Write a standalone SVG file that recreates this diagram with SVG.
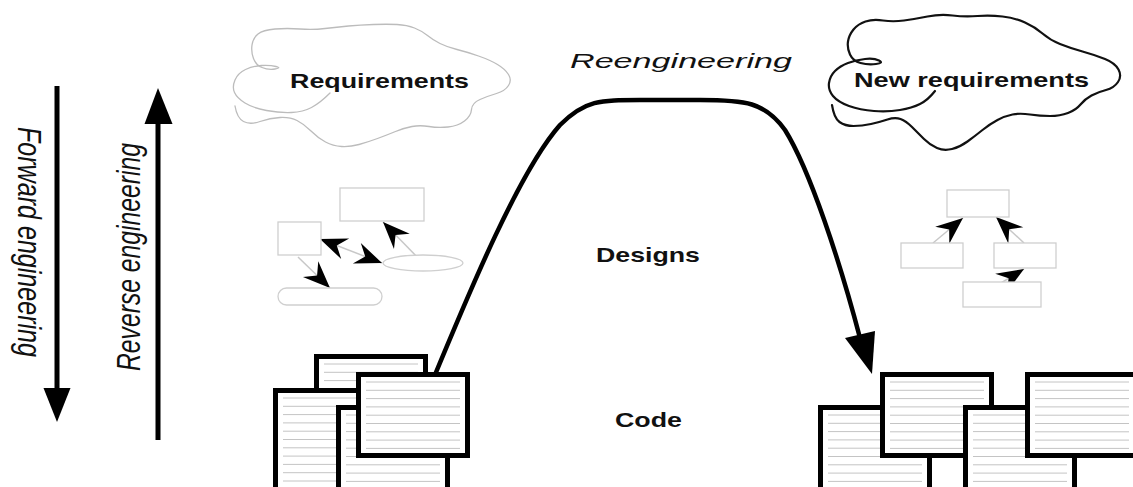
<svg xmlns="http://www.w3.org/2000/svg" xmlns:xlink="http://www.w3.org/1999/xlink" width="1133" height="487" viewBox="0 0 1133 487">
  <style>
    .label { font-family: "Liberation Sans", Arial, sans-serif; font-weight: bold; font-size: 21px; fill: #111; }
    .side { font-family: "Liberation Sans", Arial, sans-serif; font-style: italic; font-size: 27px; fill: #111; }
    .title { font-family: "Liberation Sans", Arial, sans-serif; font-style: italic; font-size: 21px; fill: #111; }
    .cloud-old { fill: none; stroke: #bcbcbc; stroke-width: 1.3; stroke-linecap: round; stroke-linejoin: round; }
    .cloud-new { fill: none; stroke: #111; stroke-width: 2.2; stroke-linecap: round; stroke-linejoin: round; }
    .sketch { fill: #fff; stroke: #cfcfcf; stroke-width: 1.3; }
    .link { fill: none; stroke: #c8c8c8; stroke-width: 1.5; }
    .flow { fill: none; stroke: #000; stroke-width: 4.5; stroke-linecap: round; stroke-linejoin: round; }
    .axis { stroke: #000; stroke-width: 5; }
    .head { fill: #000; stroke: none; }
    .sheet { fill: #fff; stroke: #000; stroke-width: 5; }
    .rule { fill: none; stroke: #c4c4c4; stroke-width: 1; }
  </style>
  <defs>
    <!-- notched arrowhead for the small design sketches -->
    <marker id="barb" viewBox="-30 -13 32 26" refX="0" refY="0" markerWidth="32" markerHeight="26" orient="auto-start-reverse" markerUnits="userSpaceOnUse">
      <path d="M0,0 L-27,-11 L-18,0 L-27,11 Z" fill="#000"/>
    </marker>
    <!-- ruled code sheet, short (fully visible) -->
    <g id="sheetShort">
      <rect class="sheet" x="2.5" y="2.5" width="109" height="81"/>
      <path class="rule" d="M10 10H104M10 18.3H104M10 26.6H104M10 34.9H104M10 43.2H104M10 51.5H104M10 59.8H104M10 68.1H104M10 76.4H104"/>
    </g>
    <!-- ruled code sheet, running off the bottom edge -->
    <g id="sheetTall">
      <rect class="sheet" x="2.5" y="2.5" width="109" height="130"/>
      <path class="rule" d="M10 10H104M10 18.3H104M10 26.6H104M10 34.9H104M10 43.2H104M10 51.5H104M10 59.8H104M10 68.1H104M10 76.4H104M10 84.7H104M10 93H104M10 101.3H104M10 109.6H104M10 117.9H104M10 126.2H104"/>
    </g>
  </defs>

  <rect width="1133" height="487" fill="#fff"/>

  <g id="connectors">
    <!-- forward engineering (down) -->
    <line class="axis" x1="57" y1="86" x2="57" y2="392"/>
    <polygon class="head" points="43.5,388 70.5,388 57,422"/>
    <!-- reverse engineering (up) -->
    <line class="axis" x1="158" y1="120" x2="158" y2="440"/>
    <polygon class="head" points="144.5,124 172.5,124 158,88"/>
    <!-- reengineering path from old code, over the top, down to new code -->
    <path class="flow" d="M 432 382 C 470 290, 520 170, 560 125 C 585 100, 600 100, 640 100 L 700 100 C 745 100, 765 102, 785 130 C 810 170, 840 262, 860 338"/>
    <polygon class="head" points="845,338 875,331 872,374"/>

    <!-- arrows of the old design sketch -->
    <line class="link" x1="298" y1="257" x2="330" y2="288" marker-end="url(#barb)"/>
    <line class="link" x1="320" y1="239" x2="382" y2="263" marker-start="url(#barb)" marker-end="url(#barb)"/>
    <line class="link" x1="422" y1="262" x2="383" y2="222" marker-end="url(#barb)"/>
    <!-- arrows of the new design sketch -->
    <line class="link" x1="933" y1="243" x2="963" y2="218" marker-end="url(#barb)"/>
    <line class="link" x1="1024" y1="243" x2="996" y2="217" marker-end="url(#barb)"/>
    <line class="link" x1="1001" y1="283" x2="1024" y2="269" marker-end="url(#barb)"/>
  </g>

  <g id="forward-label">
    <text class="side" transform="translate(18,127) scale(1.25,1) rotate(90)" textLength="230" lengthAdjust="spacingAndGlyphs">Forward engineering</text>
  </g>
  <g id="reverse-label">
    <text class="side" transform="translate(140,371) scale(1.25,1) rotate(-90)" textLength="228" lengthAdjust="spacingAndGlyphs">Reverse engineering</text>
  </g>

  <g id="requirements">
    <path class="cloud-old" d="M 235 106 Q 237 118 243.5 121.5 Q 250 125 260 121.5 Q 270 118 280 117.5 Q 290 117 297 120.5 Q 304 124 311 131 Q 318 138 325.5 142 Q 333 146 341.5 146.5 Q 350 147 359 144.5 Q 368 142 377.5 138.5 Q 387 135 395.5 131.5 Q 404 128 412 126.5 Q 420 125 429 126.5 Q 438 128 448 127 Q 458 126 464.5 121 Q 471 116 471.5 109.5 Q 472 103 480 99.5 Q 488 96 496.5 93.5 Q 505 91 508.5 85.5 Q 512 80 508.5 74.5 Q 505 69 497.5 64.5 Q 490 60 478.5 56 Q 467 52 457 49.5 Q 447 47 440 43.5 Q 433 40 427.5 35.5 Q 422 31 414.5 28 Q 407 25 397 24.5 Q 387 24 373.5 24.5 Q 360 25 348.5 26 Q 337 27 325 28.5 Q 313 30 300 29 Q 287 28 275 29 Q 263 30 258 34 Q 253 38 252 45 Q 251 52 253.5 58.5 Q 256 65 262 67.5 Q 268 70 275 69 Q 282 68 276 66.5 Q 270 65 261.5 65.5 Q 253 66 245.5 69.5 Q 238 73 235 80 Q 232 87 234.5 92.5 Q 237 98 245 103 Q 253 108 266.5 110.5 Q 280 113 291.5 112.5 Q 303 112 311.5 107.5 Q 320 103 330 93"/>
    <text class="label" x="290" y="88" textLength="179" lengthAdjust="spacingAndGlyphs">Requirements</text>
  </g>

  <g id="reengineering-label">
    <text class="title" x="570" y="68" textLength="222" lengthAdjust="spacingAndGlyphs">Reengineering</text>
  </g>

  <g id="new-requirements">
    <path class="cloud-new" d="M 832 105 Q 834 118 839.5 122 Q 845 126 853.5 126 Q 862 126 871 124 Q 880 122 887.5 119.5 Q 895 117 900.5 119 Q 906 121 912 127 Q 918 133 924 139 Q 930 145 937 148 Q 944 151 952 149 Q 960 147 967.5 141.5 Q 975 136 982.5 130 Q 990 124 997.5 120 Q 1005 116 1012.5 114.5 Q 1020 113 1030 114.5 Q 1040 116 1050 116 Q 1060 116 1068 113 Q 1076 110 1080.5 104.5 Q 1085 99 1091.5 95.5 Q 1098 92 1106 90 Q 1114 88 1118 82 Q 1122 76 1118.5 69.5 Q 1115 63 1105 59 Q 1095 55 1082.5 51.5 Q 1070 48 1060 44 Q 1050 40 1042.5 33.5 Q 1035 27 1025 22.5 Q 1015 18 1002.5 16.5 Q 990 15 977.5 16 Q 965 17 952.5 15.5 Q 940 14 927.5 16.5 Q 915 19 904 20.5 Q 893 22 883 20.5 Q 873 19 865.5 21.5 Q 858 24 853.5 29.5 Q 849 35 848 41.5 Q 847 48 850 54.5 Q 853 61 860.5 63 Q 868 65 876 64 Q 884 63 879 60.5 Q 874 58 865 59 Q 856 60 848 63 Q 840 66 835 71 Q 830 76 829 83 Q 828 90 833 96 Q 838 102 849 106 Q 860 110 874 111 Q 888 112 900 110 Q 912 108 920 104 Q 928 100 935 91"/>
    <text class="label" x="854" y="87" textLength="235" lengthAdjust="spacingAndGlyphs">New requirements</text>
  </g>

  <g id="old-design">
    <rect class="sketch" x="340" y="188" width="84" height="33"/>
    <rect class="sketch" x="278" y="222" width="43" height="33"/>
    <ellipse class="sketch" cx="423" cy="263" rx="40" ry="8"/>
    <rect class="sketch" x="278" y="288" width="104" height="17" rx="8.5"/>
  </g>

  <g id="designs-label">
    <text class="label" x="596" y="262" textLength="104" lengthAdjust="spacingAndGlyphs">Designs</text>
  </g>

  <g id="new-design">
    <rect class="sketch" x="947" y="190" width="62" height="27"/>
    <rect class="sketch" x="901" y="243" width="62" height="25"/>
    <rect class="sketch" x="994" y="243" width="62" height="25"/>
    <rect class="sketch" x="963" y="282" width="78" height="25"/>
  </g>

  <g id="old-code">
    <use xlink:href="#sheetTall" x="314" y="354"/>
    <use xlink:href="#sheetTall" x="273" y="388"/>
    <use xlink:href="#sheetTall" x="336" y="405"/>
    <use xlink:href="#sheetShort" x="356" y="372"/>
  </g>

  <g id="code-label">
    <text class="label" x="615" y="427" font-size="20" textLength="67" lengthAdjust="spacingAndGlyphs">Code</text>
  </g>

  <g id="new-code">
    <use xlink:href="#sheetTall" x="818" y="405"/>
    <use xlink:href="#sheetShort" x="880" y="372"/>
    <use xlink:href="#sheetTall" x="963" y="405"/>
    <use xlink:href="#sheetShort" x="1025" y="372"/>
  </g>
</svg>
